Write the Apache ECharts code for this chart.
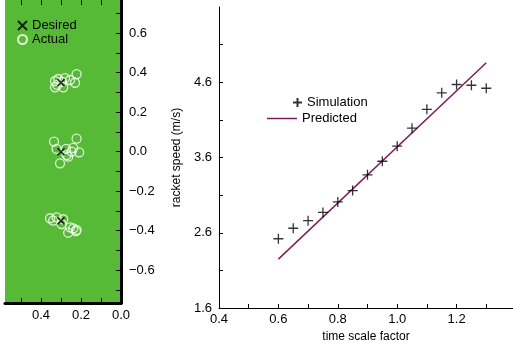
<!DOCTYPE html>
<html>
<head>
<meta charset="utf-8">
<script src="https://cdn.jsdelivr.net/npm/echarts@6/dist/echarts.min.js"></script>
<style>
html,body{margin:0;padding:0;background:#fff}
#container{width:513px;height:349px}
</style>
</head>
<body>
<div id="container"></div>
<script>
// left panel: desired vs actual target points
var desiredX = [0.3, 0.3, 0.3];
var desiredY = [0.35, 0.0, -0.35];
var actualX = [0.222, 0.23, 0.33, 0.314, 0.28, 0.255, 0.33, 0.289, 0.319, 0.295,
               0.335, 0.222, 0.322, 0.275, 0.247, 0.209, 0.272, 0.264, 0.305, 0.239,
               0.355, 0.339, 0.322, 0.289, 0.297, 0.255, 0.239, 0.222, 0.264, 0.225];
var actualY = [0.393, 0.349, 0.358, 0.368, 0.372, 0.363, 0.326, 0.326, 0.338, 0.353,
               0.051, 0.066, 0.014, 0.014, 0.0, -0.003, -0.017, -0.025, -0.059, 0.019,
               -0.337, -0.349, -0.332, -0.342, -0.366, -0.383, -0.388, -0.396, -0.41, -0.402];

// right panel: racket speed vs time scale factor
var scaleFactor = [0.6, 0.65, 0.7, 0.75, 0.8, 0.85, 0.9, 0.95, 1.0, 1.05, 1.1, 1.15, 1.2, 1.25, 1.3];
var simSpeed = [2.52, 2.66, 2.76, 2.87, 3.01, 3.16, 3.37, 3.55, 3.75, 3.99, 4.24, 4.46, 4.57, 4.56, 4.52];
var predFactor = [0.6, 1.3];
var predSpeed = [2.25, 4.86];

// ticks and labels
var leftYTicks = [-0.7, -0.6, -0.5, -0.4, -0.3, -0.2, -0.1, 0, 0.1, 0.2, 0.3, 0.4, 0.5, 0.6, 0.7];
var leftYLabels = [-0.6, -0.4, -0.2, 0, 0.2, 0.4, 0.6];
var leftXTicks = [0.1, 0.2, 0.3, 0.4, 0.5];
var leftXLabels = [0, 0.2, 0.4];
var rightXTicks = [0.5, 0.6, 0.7, 0.8, 0.9, 1.0, 1.1, 1.2, 1.3];
var rightXLabels = [0.4, 0.6, 0.8, 1.0, 1.2];
var rightYTicks = [2.1, 2.6, 3.1, 3.6, 4.1, 4.6, 5.1];
var rightYLabels = [1.6, 2.6, 3.6, 4.6];

var crossPath = 'path://M0,0L10,10M10,0L0,10';
var plusPath = 'path://M5,0L5,10M0,5L10,5';
var font = 'Liberation Sans, Arial, sans-serif';
var purple = '#7a1f5c';

function fmt(v) {
    return v.toFixed(1).replace('-', '\u2212');
}
function pairs(xs, ys) {
    var out = [];
    for (var i = 0; i < xs.length; i++) out.push([xs[i], ys[i]]);
    return out;
}

var dom = document.getElementById('container');
var myChart = echarts.init(dom);
var option = {
    animation: false,
    textStyle: {fontFamily: font},
    grid: [
        {left: 5, right: 392, top: 0, bottom: 46, show: true, backgroundColor: '#57ba36', borderWidth: 0},
        {left: 219, right: 0, top: 7, bottom: 41}
    ],
    legend: [
        {
            orient: 'vertical', left: 12, top: 14, itemWidth: 9, itemHeight: 9, itemGap: 1,
            data: [{name: 'Desired', icon: crossPath}, {name: 'Actual', icon: 'circle'}],
            textStyle: {fontSize: 13, color: '#000', fontFamily: font}
        },
        {
            left: 287, top: 91, itemWidth: 9, itemHeight: 9,
            data: [{name: 'Simulation', icon: plusPath}],
            textStyle: {fontSize: 13, color: '#000', fontFamily: font}
        },
        {
            left: 262, top: 107, itemWidth: 30, itemHeight: 1.5,
            data: [{name: 'Predicted', icon: 'rect', itemStyle: {color: purple, borderWidth: 0}}],
            textStyle: {fontSize: 13, color: '#000', fontFamily: font}
        }
    ],
    xAxis: [
        {
            gridIndex: 0, type: 'value', inverse: true, min: 0, max: 0.58, position: 'bottom',
            axisLine: {onZero: false, lineStyle: {color: '#000', width: 3}},
            axisTick: {inside: true, length: 5, customValues: leftXTicks, lineStyle: {color: '#000'}},
            axisLabel: {customValues: leftXLabels, formatter: fmt, color: '#000', fontSize: 13, margin: 6},
            splitLine: {show: false}
        },
        {
            gridIndex: 0, type: 'value', inverse: true, min: 0, max: 0.58, position: 'top',
            axisLine: {show: false, onZero: false},
            axisTick: {inside: true, length: 5, customValues: leftXTicks, lineStyle: {color: '#000'}},
            axisLabel: {show: false},
            splitLine: {show: false}
        },
        {
            gridIndex: 1, type: 'value', min: 0.4, max: 1.39,
            name: 'time scale factor', nameLocation: 'middle', nameGap: 22,
            nameTextStyle: {fontSize: 12, color: '#000'},
            axisLine: {onZero: false, lineStyle: {color: '#000', width: 1}},
            axisTick: {inside: true, length: 4, customValues: rightXTicks, lineStyle: {color: '#000'}},
            axisLabel: {customValues: rightXLabels, formatter: fmt, color: '#000', fontSize: 13, margin: 5},
            splitLine: {show: false}
        }
    ],
    yAxis: [
        {
            gridIndex: 0, type: 'value', position: 'right', min: -0.766, max: 0.768,
            axisLine: {onZero: false, lineStyle: {color: '#000', width: 3}},
            axisTick: {inside: true, length: 5, customValues: leftYTicks, lineStyle: {color: '#000'}},
            axisLabel: {customValues: leftYLabels, formatter: fmt, color: '#000', fontSize: 13, margin: 8},
            splitLine: {show: false}
        },
        {
            gridIndex: 1, type: 'value', min: 1.6, max: 5.6,
            name: 'racket speed (m/s)', nameLocation: 'middle', nameGap: 35,
            nameTextStyle: {fontSize: 12, color: '#000'},
            axisLine: {onZero: false, lineStyle: {color: '#000', width: 1}},
            axisTick: {inside: true, length: 4, customValues: rightYTicks, lineStyle: {color: '#000'}},
            axisLabel: {customValues: rightYLabels, formatter: fmt, color: '#000', fontSize: 13, margin: 7},
            splitLine: {show: false}
        }
    ],
    series: [
        {
            name: 'Actual', type: 'scatter', xAxisIndex: 0, yAxisIndex: 0,
            symbol: 'circle', symbolSize: 9,
            itemStyle: {color: 'rgba(0,0,0,0)', borderColor: '#fff', borderWidth: 1.3},
            data: pairs(actualX, actualY), z: 2
        },
        {
            name: 'Desired', type: 'scatter', xAxisIndex: 0, yAxisIndex: 0,
            symbol: crossPath, symbolSize: 7,
            itemStyle: {color: 'rgba(0,0,0,0)', borderColor: '#000', borderWidth: 1.6},
            data: pairs(desiredX, desiredY), z: 3
        },
        {
            name: 'Simulation', type: 'scatter', xAxisIndex: 2, yAxisIndex: 1,
            symbol: plusPath, symbolSize: 10,
            itemStyle: {color: 'rgba(0,0,0,0)', borderColor: '#000', borderWidth: 1.3},
            data: pairs(scaleFactor, simSpeed), z: 3
        },
        {
            name: 'Predicted', type: 'line', xAxisIndex: 2, yAxisIndex: 1,
            symbol: 'none', color: purple,
            lineStyle: {color: purple, width: 1.5},
            data: pairs(predFactor, predSpeed), z: 2
        }
    ]
};
if (option && typeof option === 'object') {
    myChart.setOption(option, true);
}
</script>
</body>
</html>
